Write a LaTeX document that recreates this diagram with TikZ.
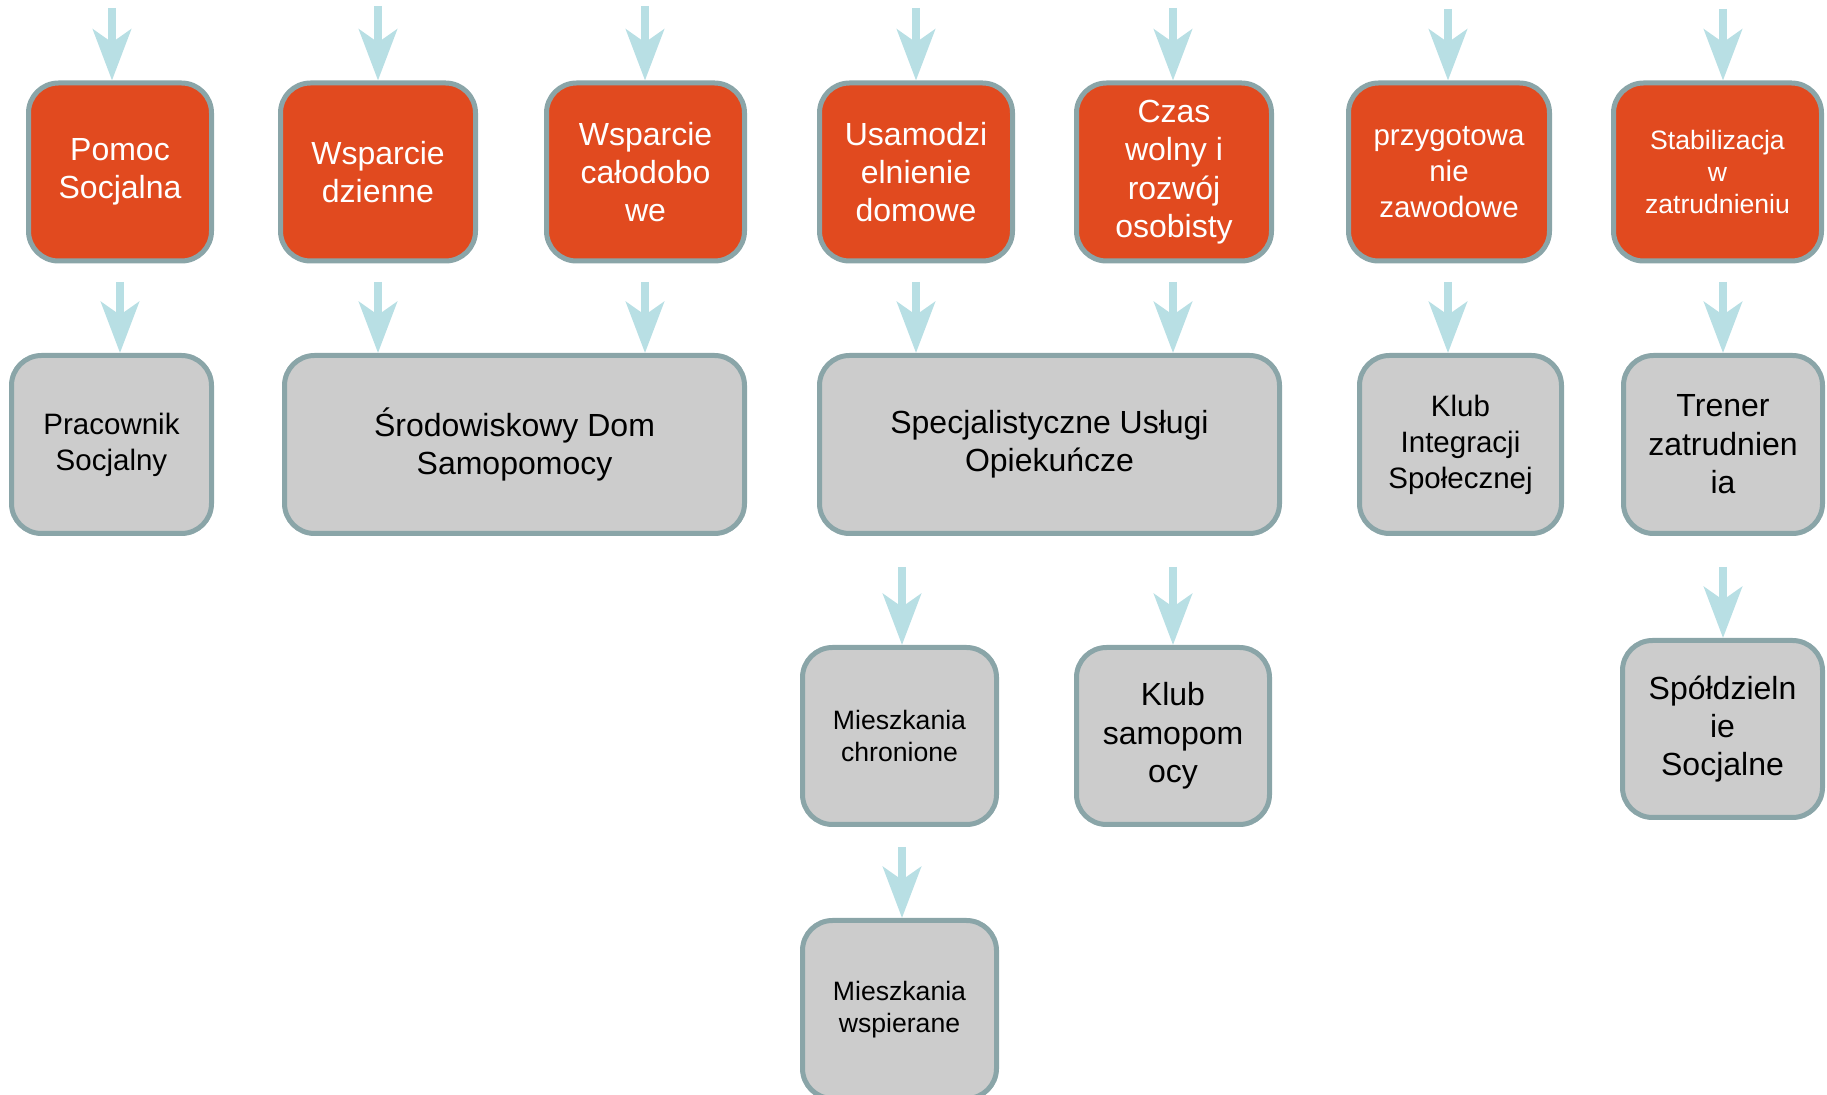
\documentclass[tikz,border=0pt]{standalone}
\usepackage{fontspec}
\setmainfont{Liberation Sans}
\usetikzlibrary{arrows.meta}
\definecolor{orangec}{HTML}{E14A1F}
\definecolor{bordc}{HTML}{8AA5A8}
\definecolor{grayc}{HTML}{CCCCCC}
\definecolor{arrc}{HTML}{B8DFE4}
\begin{document}
\begin{tikzpicture}[x=0.5pt,y=-0.5pt,
  box/.style={rounded corners=15pt, line width=2.5pt, draw=bordc, align=center, inner sep=0pt, minimum height=89pt},
  obox/.style={box, fill=orangec, text=white},
  gbox/.style={box, fill=grayc, text=black},
  bigf/.style={font=\fontsize{16}{19.2}\selectfont},
  midf/.style={font=\fontsize{14.75}{18}\selectfont},
  smallf/.style={font=\fontsize{13.3}{16}\selectfont},
  arr/.style={draw=arrc, line width=4pt, -{Stealth[length=25.5pt, width=19pt, inset=6.5pt, fill=arrc]}}
]
\useasboundingbox (0,0) rectangle (1827,1095);
% row 1
\node[obox,bigf,minimum width=91.5pt] (p1) at (120,172) {Pomoc\\Socjalna};
\node[obox,bigf,minimum width=97.5pt] (p2) at (378,172) {Wsparcie\\dzienne};
\node[obox,bigf,minimum width=99pt] (p3) at (645.5,172) {Wsparcie\\całodobo\\we};
\node[obox,bigf,minimum width=96.5pt] (p4) at (916,172) {Usamodzi\\elnienie\\domowe};
\node[obox,bigf,minimum width=97.5pt] (p5) at (1174,172) {Czas\\wolny i\\rozwój\\osobisty};
\node[obox,midf,minimum width=100.5pt] (p6) at (1449,172) {przygotowa\\nie\\zawodowe};
\node[obox,smallf,minimum width=104pt] (p7) at (1717.5,172) {Stabilizacja\\w\\zatrudnieniu};
% row 2
\node[gbox,midf,minimum width=100pt] (g1) at (111.5,444.5) {Pracownik\\Socjalny};
\node[gbox,bigf,minimum width=230pt] (g2) at (514.5,444.5) {Środowiskowy Dom\\Samopomocy};
\node[gbox,bigf,minimum width=230pt] (g3) at (1049.5,444.5) {Specjalistyczne Usługi\\Opiekuńcze};
\node[gbox,midf,minimum width=101pt] (g4) at (1460.5,444.5) {Klub\\Integracji\\Społecznej};
\node[gbox,bigf,minimum width=99.5pt] (g5) at (1723,444.5) {Trener\\zatrudnien\\ia};
% row 3
\node[gbox,smallf,minimum width=97pt,minimum height=88.5pt] (m1) at (899.5,736) {Mieszkania\\chronione};
\node[gbox,bigf,minimum width=96.5pt,minimum height=88.5pt] (k1) at (1173,736) {Klub\\samopom\\ocy};
\node[gbox,bigf,minimum width=100pt,minimum height=88.5pt] (s1) at (1722.5,729) {Spółdzieln\\ie\\Socjalne};
% row 4
\node[gbox,smallf,minimum width=97pt] (m2) at (899.5,1009.5) {Mieszkania\\wspierane};
% free arrow starts
\coordinate (t1) at (112,8);
\coordinate (t2) at (378,6);
\coordinate (t3) at (645,6);
\coordinate (t4) at (916,8);
\coordinate (t5) at (1173,8);
\coordinate (t6) at (1448,9);
\coordinate (t7) at (1723,9);
\coordinate (u1) at (120,282);
\coordinate (u2) at (378,282);
\coordinate (u3) at (645,282);
\coordinate (u4) at (916,282);
\coordinate (u5) at (1173,282);
\coordinate (u6) at (1448,282);
\coordinate (u7) at (1723,282);
\coordinate (v1) at (902,567);
\coordinate (v2) at (1173,567);
\coordinate (v3) at (1723,567);
\coordinate (w1) at (902,847);
% arrows
\draw[arr] (t1) -- (t1 |- p1.north);
\draw[arr] (t2) -- (t2 |- p2.north);
\draw[arr] (t3) -- (t3 |- p3.north);
\draw[arr] (t4) -- (t4 |- p4.north);
\draw[arr] (t5) -- (t5 |- p5.north);
\draw[arr] (t6) -- (t6 |- p6.north);
\draw[arr] (t7) -- (t7 |- p7.north);
\draw[arr] (u1) -- (u1 |- g1.north);
\draw[arr] (u2) -- (u2 |- g2.north);
\draw[arr] (u3) -- (u3 |- g2.north);
\draw[arr] (u4) -- (u4 |- g3.north);
\draw[arr] (u5) -- (u5 |- g3.north);
\draw[arr] (u6) -- (u6 |- g4.north);
\draw[arr] (u7) -- (u7 |- g5.north);
\draw[arr] (v1) -- (v1 |- m1.north);
\draw[arr] (v2) -- (v2 |- k1.north);
\draw[arr] (v3) -- (v3 |- s1.north);
\draw[arr] (w1) -- (w1 |- m2.north);
\end{tikzpicture}
\end{document}
